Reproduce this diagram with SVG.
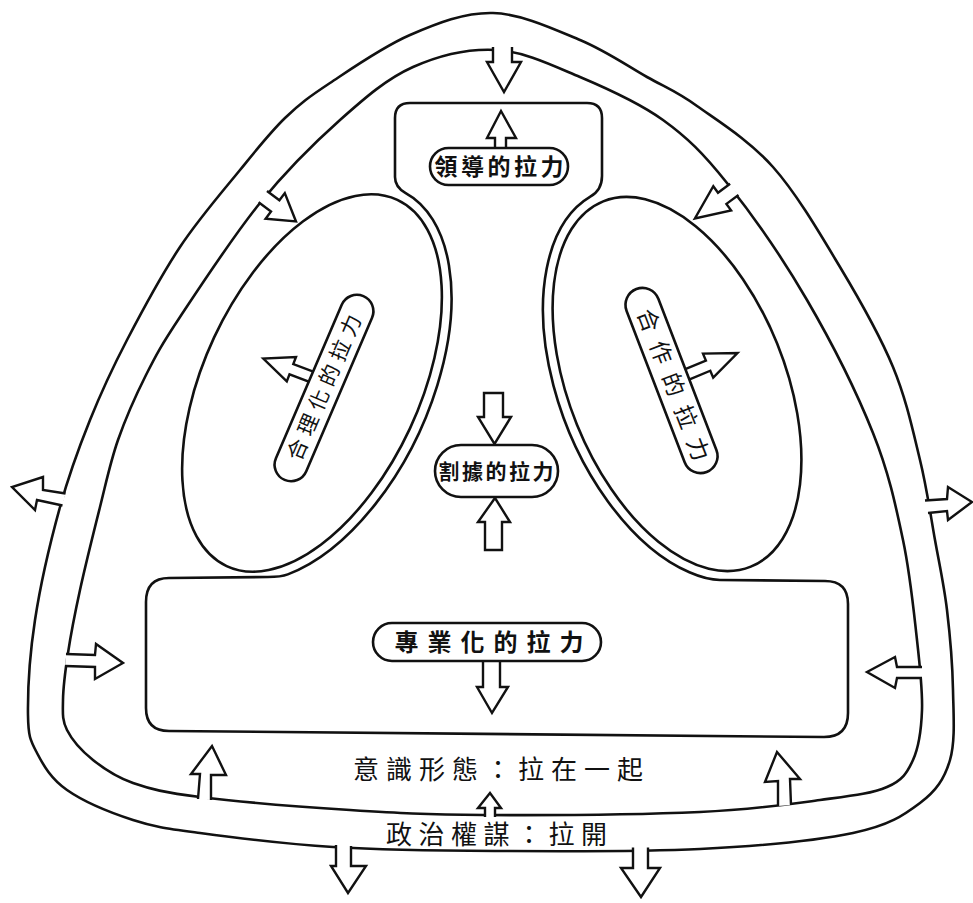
<svg xmlns="http://www.w3.org/2000/svg" width="973" height="903" viewBox="0 0 973 903">
<style>
.ln{fill:none;stroke:#111;stroke-width:2.6;stroke-linejoin:round}
.ar{fill:#fff;stroke:#111;stroke-width:2.4;stroke-linejoin:miter}
.pill{fill:#fff;stroke:#111;stroke-width:2.6}
.t{font-family:'Liberation Sans','Noto Sans CJK TC','Noto Sans CJK SC',sans-serif;fill:#111;dominant-baseline:central;text-anchor:middle}
.b{font-weight:bold}
</style>
<rect width="973" height="903" fill="#fff"/>
<g id="band">
<path class="ln" d="M493,13 C521.3,13.8 554.3,29.3 580,40 C605.7,50.7 627.5,66 647,77 C666.5,88 676,91 697,106 C718,121 749.2,140.2 773,167 C796.8,193.8 820,233.7 840,267 C860,300.3 879.7,334.8 893,367 C906.3,399.2 913,431.2 920,460 C927,488.8 930.5,515 935,540 C939.5,565 944,585 947,610 C950,635 952.5,665 953,690 C953.5,715 955.5,741.2 950,760 C944.5,778.8 936.2,790.8 920,803 C903.8,815.2 889.7,825.3 853,833 C816.3,840.7 759.7,846 700,849 C640.3,852 556.2,851.3 495,851 C433.8,850.7 382.2,850 333,847 C283.8,844 233.3,837.5 200,833 C166.7,828.5 155.2,827.2 133,820 C110.8,812.8 83,801.2 67,790 C51,778.8 43.5,765.5 37,753 C30.5,740.5 28.3,737.2 28,715 C27.7,692.8 29.7,654.7 35,620 C40.3,585.3 50.8,540.3 60,507 C69.2,473.7 78.8,447.8 90,420 C101.2,392.2 112,368.8 127,340 C142,311.2 161.2,275.3 180,247 C198.8,218.7 222.5,191.5 240,170 C257.5,148.5 270,132.5 285,118 C300,103.5 309.2,96.8 330,83 C350.8,69.2 382.8,46.7 410,35 C437.2,23.3 464.7,12.2 493,13 Z"/>
<path class="ln" d="M497,50 C524.8,51.7 552.3,65.3 580,77 C607.7,88.7 638.5,102.3 663,120 C687.5,137.7 703,153 727,183 C751,213 782.7,258.3 807,300 C831.3,341.7 857,393 873,433 C889,473 895.7,505.5 903,540 C910.3,574.5 913.8,611.7 917,640 C920.2,668.3 922.7,690 922,710 C921.3,730 918.8,747.2 913,760 C907.2,772.8 902.5,780.3 887,787 C871.5,793.7 851.2,795.8 820,800 C788.8,804.2 756.2,809.5 700,812 C643.8,814.5 541.3,815.3 483,815 C424.7,814.7 397.2,813 350,810 C302.8,807 236.2,801.5 200,797 C163.8,792.5 150.8,789.2 133,783 C115.2,776.8 104,768.8 93,760 C82,751.2 72,740 67,730 C62,720 62.8,712.8 63,700 C63.2,687.2 65.2,671.3 68,653 C70.8,634.7 74.7,614.3 80,590 C85.3,565.7 93.7,532 100,507 C106.3,482 110.3,462 118,440 C125.7,418 135.7,395.5 146,375 C156.3,354.5 161,345.7 180,317 C199,288.3 233.3,235.8 260,203 C286.7,170.2 314.5,142.7 340,120 C365.5,97.3 386.8,78.7 413,67 C439.2,55.3 469.2,48.3 497,50 Z"/>
</g>
<g id="core">
<path class="ln" d="M410,103 L587,103 Q602,103 602,118 L602,176 Q602,190 590.3,196.7 A118,207 -22 0 0 689.4,572.3 Q707,580 720,580 L825,581 Q848,581 848,604 L848,713 Q848,737 824,737 L169,731 Q146,731 146,708 L146,602 Q146,578 169,578 L268,577 Q281,577 287.8,574.4 A118,212 25 0 0 405.3,192.8 Q395,187 395,177 L395,118 Q395,103 410,103 Z"/>
</g>
<g id="zone-left">
<ellipse class="ln" cx="312" cy="383" rx="108" ry="202" transform="rotate(25 312 383)"/>
</g>
<g id="zone-right">
<ellipse class="ln" cx="677" cy="384" rx="108" ry="197" transform="rotate(-22 677 384)"/>
</g>
<g id="connectors">
<path class="ar" d="M493,47 L493,62 L487,62 L504,92 L521,62 L512,62 L512,47"/>
<path class="ar" d="M267,191 L279.4,200.3 L284.8,193.1 L296,221.5 L265.6,218.7 L271,211.5 L258.6,202.2"/>
<path class="ar" d="M730.1,183.8 L718,192.7 L713.3,186.2 L694.9,218.5 L731.1,210.4 L726.4,203.9 L738.5,195"/>
<path class="ar" d="M65.5,493.5 L43,490 L43,477 L12,487 L35,510 L37,500 L62.5,505.5"/>
<path class="ar" d="M925,500.5 L947,499 L948,487 L972,502 L948,520 L947,511 L928,513"/>
<path class="ar" d="M66,654 L95,655 L96,644 L123,663 L95,679 L95,667 L65,666"/>
<path class="ar" d="M922,667 L897,667 L895,657 L867,672 L895,688 L897,678 L922,678"/>
<path class="ar" d="M198,799 L200,774 L191,774 L212,746 L226,775 L211,775 L211,800"/>
<path class="ar" d="M778,806 L778,781 L765,782 L777,752 L800,779 L790,779 L791,805"/>
<path class="ar" d="M485,817 L485,808 L478,808 L490,793 L501,808 L495,808 L495,817"/>
<path class="ar" d="M336,845 L336,866 L331,866 L348,893 L366,866 L351,866 L351,846"/>
<path class="ar" d="M633,847.5 L633,868 L621,868 L641,897 L660,868 L648,868 L648,847.5"/>
<path class="ar" d="M495,152 L495,138 L487,138 L501,111 L516,138 L506,138 L506,152"/>
<path class="ar" d="M484,393 L503,393 L503,417 L511,417 L494.5,444 L478,417 L484,417 Z"/>
<path class="ar" d="M485,550 L502,550 L502,522 L510,522 L495,498 L478,522 L485,522 Z"/>
<path class="ar" d="M483,658 L483,687 L477,687 L492,713 L508,687 L500,687 L500,658"/>
<path class="ar" d="M317.9,373.4 L293.3,364.1 L296,357 L263.3,358.6 L286.8,381.4 L289.5,374.3 L314.1,383.6 Z"/>
<path class="ar" d="M679.8,371.4 L705.9,360.5 L703,353.6 L737.5,353 L713.2,377.6 L710.3,370.7 L684.2,381.6 Z"/>
</g>
<g id="leadership">
<rect class="pill" x="430" y="148" width="138" height="37" rx="18.5"/>
<text class="t b" x="500.7" y="167" font-size="23" letter-spacing="3.5">領導的拉力</text>
</g>
<g id="separatism">
<rect class="pill" x="435" y="445" width="123" height="52" rx="26"/>
<text class="t b" x="497.2" y="471" font-size="21" letter-spacing="2.5">割據的拉力</text>
</g>
<g id="professionalization">
<rect class="pill" x="373" y="623" width="228" height="38" rx="19"/>
<text class="t b" x="493.5" y="642" font-size="24" letter-spacing="9">專業化的拉力</text>
</g>
<g id="rationalization">
<rect class="pill" x="224" y="371.5" width="200" height="33" rx="16.5" transform="rotate(-66.8 324 388)"/>
<text class="t" x="327.5" y="388" font-size="21" letter-spacing="6" transform="rotate(-66.8 324 388)">合理化的拉力</text>
</g>
<g id="cooperation">
<rect class="pill" x="573.5" y="363.5" width="196" height="34" rx="17" transform="rotate(69 671.5 380.5)"/>
<text class="t" x="681.75" y="380.5" font-size="23" letter-spacing="11.5" transform="rotate(69 671.5 380.5)">合作的拉力</text>
</g>
<g id="ideology">
<text class="t" x="501.5" y="770" font-size="26" letter-spacing="7">意識形態：拉在一起</text>
</g>
<g id="politics">
<text class="t" x="499.75" y="835" font-size="26" letter-spacing="6.5">政治權謀：拉開</text>
</g>
</svg>
